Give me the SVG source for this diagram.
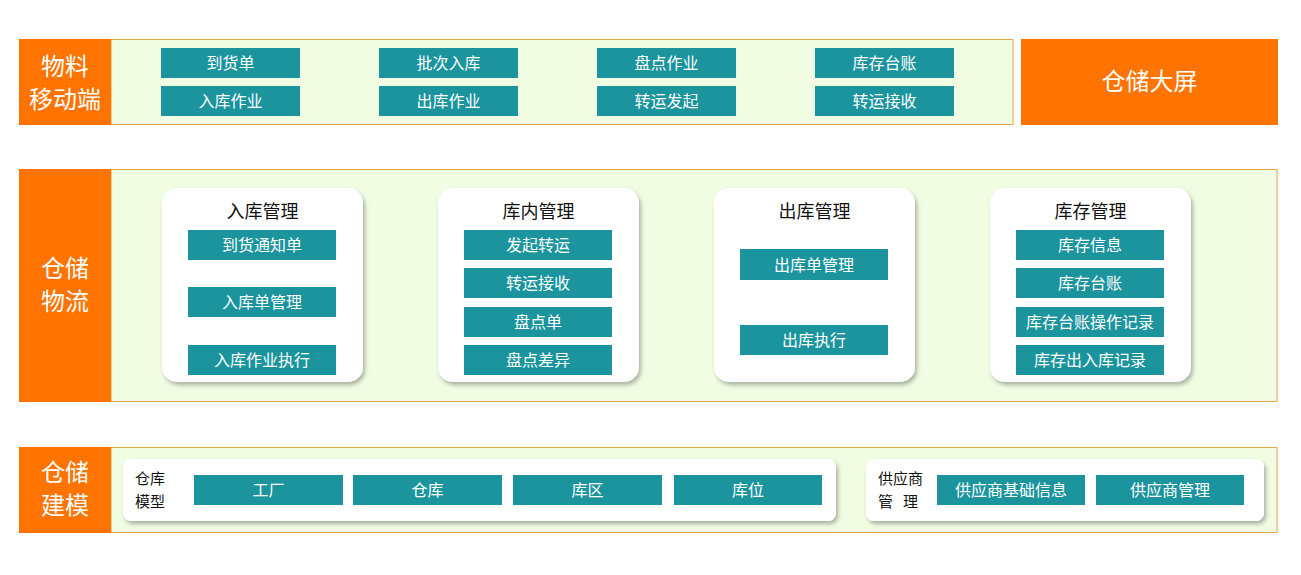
<svg xmlns="http://www.w3.org/2000/svg" width="1301" height="575" viewBox="0 0 1301 575">
<defs>
<filter id="sh" x="-10%" y="-10%" width="125%" height="130%"><feDropShadow dx="2" dy="3" stdDeviation="2" flood-color="#000" flood-opacity="0.3"/></filter>
</defs>
<style>
text{font-family:"Noto Sans CJK SC","Microsoft YaHei",sans-serif}
.o{fill:#FF7300}
.g{fill:#F1FDE3;stroke:#E3A44A;stroke-width:1}
.b{fill:#1B949E}
.bt{fill:#fff;font-size:16px;text-anchor:middle}
.ot{fill:#fff;font-size:24px;text-anchor:middle}
.card{fill:#fff;filter:url(#sh)}
.ct{fill:#111;font-size:18px;text-anchor:middle}
.lt{fill:#111;font-size:15px}
</style>
<rect width="1301" height="575" fill="#fff"/>
<g id="row1">
<rect class="g" x="111" y="39.5" width="902" height="85"/>
<rect class="o" x="19" y="39" width="92" height="86"/>
<text class="ot" x="65" y="75">物料</text><text class="ot" x="65" y="108">移动端</text>
<g id="b1"><rect class="b" x="161" y="48" width="139" height="30"/><text class="bt" x="230.5" y="69">到货单</text></g>
<g id="b2"><rect class="b" x="379" y="48" width="139" height="30"/><text class="bt" x="448.5" y="69">批次入库</text></g>
<g id="b3"><rect class="b" x="597" y="48" width="139" height="30"/><text class="bt" x="666.5" y="69">盘点作业</text></g>
<g id="b4"><rect class="b" x="815" y="48" width="139" height="30"/><text class="bt" x="884.5" y="69">库存台账</text></g>
<g id="b5"><rect class="b" x="161" y="86" width="139" height="30"/><text class="bt" x="230.5" y="107">入库作业</text></g>
<g id="b6"><rect class="b" x="379" y="86" width="139" height="30"/><text class="bt" x="448.5" y="107">出库作业</text></g>
<g id="b7"><rect class="b" x="597" y="86" width="139" height="30"/><text class="bt" x="666.5" y="107">转运发起</text></g>
<g id="b8"><rect class="b" x="815" y="86" width="139" height="30"/><text class="bt" x="884.5" y="107">转运接收</text></g>
</g>
<g id="screen"><rect class="o" x="1021" y="39" width="257" height="86"/><text class="ot" x="1149.5" y="90">仓储大屏</text></g>
<g id="row2">
<rect class="g" x="111" y="169.5" width="1166" height="232"/>
<rect class="o" x="19" y="169" width="92" height="233"/>
<text class="ot" x="65" y="277">仓储</text><text class="ot" x="65" y="310">物流</text>
<g id="c1"><rect class="card" x="162" y="188" width="201" height="194" rx="15"/><text class="ct" x="262.5" y="218">入库管理</text>
<rect class="b" x="188" y="230" width="148" height="30"/><text class="bt" x="262" y="251">到货通知单</text>
<rect class="b" x="188" y="287" width="148" height="30"/><text class="bt" x="262" y="308">入库单管理</text>
<rect class="b" x="188" y="345" width="148" height="30"/><text class="bt" x="262" y="366">入库作业执行</text></g>
<g id="c2"><rect class="card" x="438" y="188" width="201" height="194" rx="15"/><text class="ct" x="538.5" y="218">库内管理</text>
<rect class="b" x="464" y="230" width="148" height="30"/><text class="bt" x="538" y="251">发起转运</text>
<rect class="b" x="464" y="268" width="148" height="30"/><text class="bt" x="538" y="289">转运接收</text>
<rect class="b" x="464" y="307" width="148" height="30"/><text class="bt" x="538" y="328">盘点单</text>
<rect class="b" x="464" y="345" width="148" height="30"/><text class="bt" x="538" y="366">盘点差异</text></g>
<g id="c3"><rect class="card" x="714" y="188" width="201" height="194" rx="15"/><text class="ct" x="814.5" y="218">出库管理</text>
<rect class="b" x="740" y="249" width="148" height="31"/><text class="bt" x="814" y="271">出库单管理</text>
<rect class="b" x="740" y="325" width="148" height="30"/><text class="bt" x="814" y="346">出库执行</text></g>
<g id="c4"><rect class="card" x="990" y="188" width="201" height="194" rx="15"/><text class="ct" x="1090.5" y="218">库存管理</text>
<rect class="b" x="1016" y="230" width="148" height="30"/><text class="bt" x="1090" y="251">库存信息</text>
<rect class="b" x="1016" y="268" width="148" height="30"/><text class="bt" x="1090" y="289">库存台账</text>
<rect class="b" x="1016" y="307" width="148" height="30"/><text class="bt" x="1090" y="328">库存台账操作记录</text>
<rect class="b" x="1016" y="345" width="148" height="30"/><text class="bt" x="1090" y="366">库存出入库记录</text></g>
</g>
<g id="row3">
<rect class="g" x="111" y="447.5" width="1166" height="85"/>
<rect class="o" x="19" y="447" width="92" height="86"/>
<text class="ot" x="65" y="481">仓储</text><text class="ot" x="65" y="514">建模</text>
<g id="m1"><rect class="card" x="123" y="459" width="713" height="62" rx="8"/>
<text class="lt" x="135" y="484">仓库</text><text class="lt" x="135" y="507">模型</text>
<rect class="b" x="194" y="475" width="149" height="30"/><text class="bt" x="268.5" y="496">工厂</text>
<rect class="b" x="353" y="475" width="149" height="30"/><text class="bt" x="427.5" y="496">仓库</text>
<rect class="b" x="513" y="475" width="149" height="30"/><text class="bt" x="587.5" y="496">库区</text>
<rect class="b" x="674" y="475" width="148" height="30"/><text class="bt" x="748" y="496">库位</text></g>
<g id="m2"><rect class="card" x="866" y="459" width="398" height="62" rx="8"/>
<text class="lt" x="878" y="484">供应商</text><text class="lt" x="878" y="507" xml:space="preserve">管   理</text>
<rect class="b" x="937" y="475" width="148" height="30"/><text class="bt" x="1011" y="496">供应商基础信息</text>
<rect class="b" x="1096" y="475" width="148" height="30"/><text class="bt" x="1170" y="496">供应商管理</text></g>
</g>
<g id="connectors"/>
</svg>
